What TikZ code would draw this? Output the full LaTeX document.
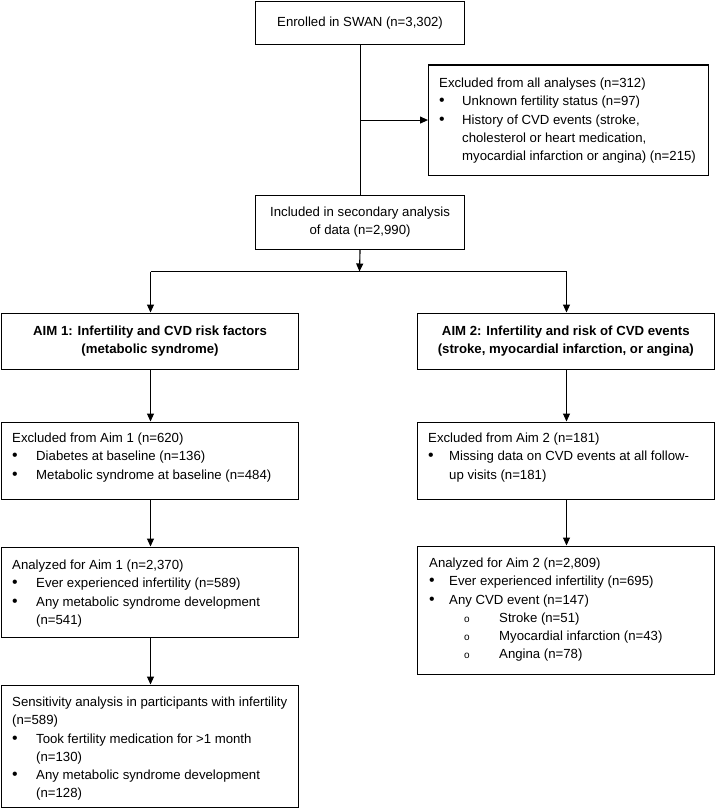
\documentclass[tikz,border=0pt]{standalone}
\usepackage{fontspec}
\setmainfont{Liberation Sans}
\usetikzlibrary{arrows.meta}
\newcommand\fs{\fontsize{13.2}{18.2}\selectfont}
\newcommand\bl[1]{\makebox[#1][l]{\scalebox{1.2}{\textbullet}}}
\newcommand\sbl{\hspace*{35pt}\makebox[35pt][l]{\fontsize{10}{10}\selectfont o}}
\begin{document}
\begin{tikzpicture}[x=1pt,y=-1pt,
  box/.style={draw=black,line width=1.1pt,anchor=north west,inner sep=0pt,font=\fs,align=center},
  txt/.style={anchor=north west,inner sep=0pt,align=left,font=\fs},
  arr/.style={draw=black,line width=1.1pt,-{Triangle[length=8pt,width=7pt]}},
  ln/.style={draw=black,line width=1.1pt}]
\useasboundingbox (0,0) rectangle (715,808);
% boxes
\node[box,minimum width=209pt,minimum height=43pt] (enr) at (255,0.6) {Enrolled in SWAN (n=3,302)};
\node[box,minimum width=280pt,minimum height=110pt] (exa) at (428,64.5) {};
\node[box,minimum width=209pt,minimum height=54pt] (inc) at (255,194.5) {Included in secondary analysis\\of data (n=2,990)};
\node[box,minimum width=297.5pt,minimum height=56pt,font=\fs\bfseries] (aim1) at (0.75,312.5) {AIM 1: Infertility and CVD risk factors\\(metabolic syndrome)};
\node[box,minimum width=297.5pt,minimum height=56pt,font=\fs\bfseries] (aim2) at (416.5,312.5) {AIM 2: Infertility and risk of CVD events\\(stroke, myocardial infarction, or angina)};
\node[box,minimum width=297.5pt,minimum height=77pt] (ex1) at (0.75,421.5) {};
\node[box,minimum width=297.5pt,minimum height=77pt] (ex2) at (416.5,421.5) {};
\node[box,minimum width=297.5pt,minimum height=90pt] (an1) at (0.75,546.5) {};
\node[box,minimum width=297.5pt,minimum height=128pt] (an2) at (416.5,545.5) {};
\node[box,minimum width=297.5pt,minimum height=122.5pt] (sens) at (0.75,684.5) {};
% texts
\node[txt] (texa) at (439,74.7) {\strut Excluded from all analyses (n=312)\\
\bl{23pt}Unknown fertility status (n=97)\\
\bl{23pt}History of CVD events (stroke,\\
\hspace*{23pt}cholesterol or heart medication,\\
\hspace*{23pt}myocardial infarction or angina) (n=215)};
\node[txt] (tex1) at (12,429.7) {\strut Excluded from Aim 1 (n=620)\\
\bl{24pt}Diabetes at baseline (n=136)\\
\bl{24pt}Metabolic syndrome at baseline (n=484)};
\node[txt] (tex2) at (428,429.7) {\strut Excluded from Aim 2 (n=181)\\
\bl{21pt}Missing data on CVD events at all follow-\\
\hspace*{21pt}up visits (n=181)};
\node[txt] (tan1) at (12,556.7) {\strut Analyzed for Aim 1 (n=2,370)\\
\bl{24pt}Ever experienced infertility (n=589)\\
\bl{24pt}Any metabolic syndrome development\\
\hspace*{24pt}(n=541)};
\node[txt] (tan2) at (429,554.7) {\strut Analyzed for Aim 2 (n=2,809)\\
\bl{20pt}Ever experienced infertility (n=695)\\
\bl{20pt}Any CVD event (n=147)\\
\sbl Stroke (n=51)\\
\sbl Myocardial infarction (n=43)\\
\sbl Angina (n=78)};
\node[txt] (tsens) at (12,693.7) {\strut Sensitivity analysis in participants with infertility\\
(n=589)\\
\bl{24pt}Took fertility medication for >1 month\\
\hspace*{24pt}(n=130)\\
\bl{24pt}Any metabolic syndrome development\\
\hspace*{24pt}(n=128)};
% connectors
\coordinate (j) at (359.5,271.5);
\coordinate (jl) at (150.5,271.5);
\coordinate (jr) at (566.5,271.5);
\draw[ln] (enr.south) -- (inc.north);
\draw[arr] (enr.south |- exa.west) -- (exa.west);
\draw[arr] (inc.south) -- (j);
\draw[ln] (jl) -- (jr);
\draw[arr] (jl) -- (jl |- aim1.north);
\draw[arr] (jr) -- (jr |- aim2.north);
\draw[arr] (jl |- aim1.south) -- (jl |- ex1.north);
\draw[arr] (jr |- aim2.south) -- (jr |- ex2.north);
\draw[arr] (jl |- ex1.south) -- (jl |- an1.north);
\draw[arr] (jr |- ex2.south) -- (jr |- an2.north);
\draw[arr] (jl |- an1.south) -- (jl |- sens.north);
\end{tikzpicture}
\end{document}
